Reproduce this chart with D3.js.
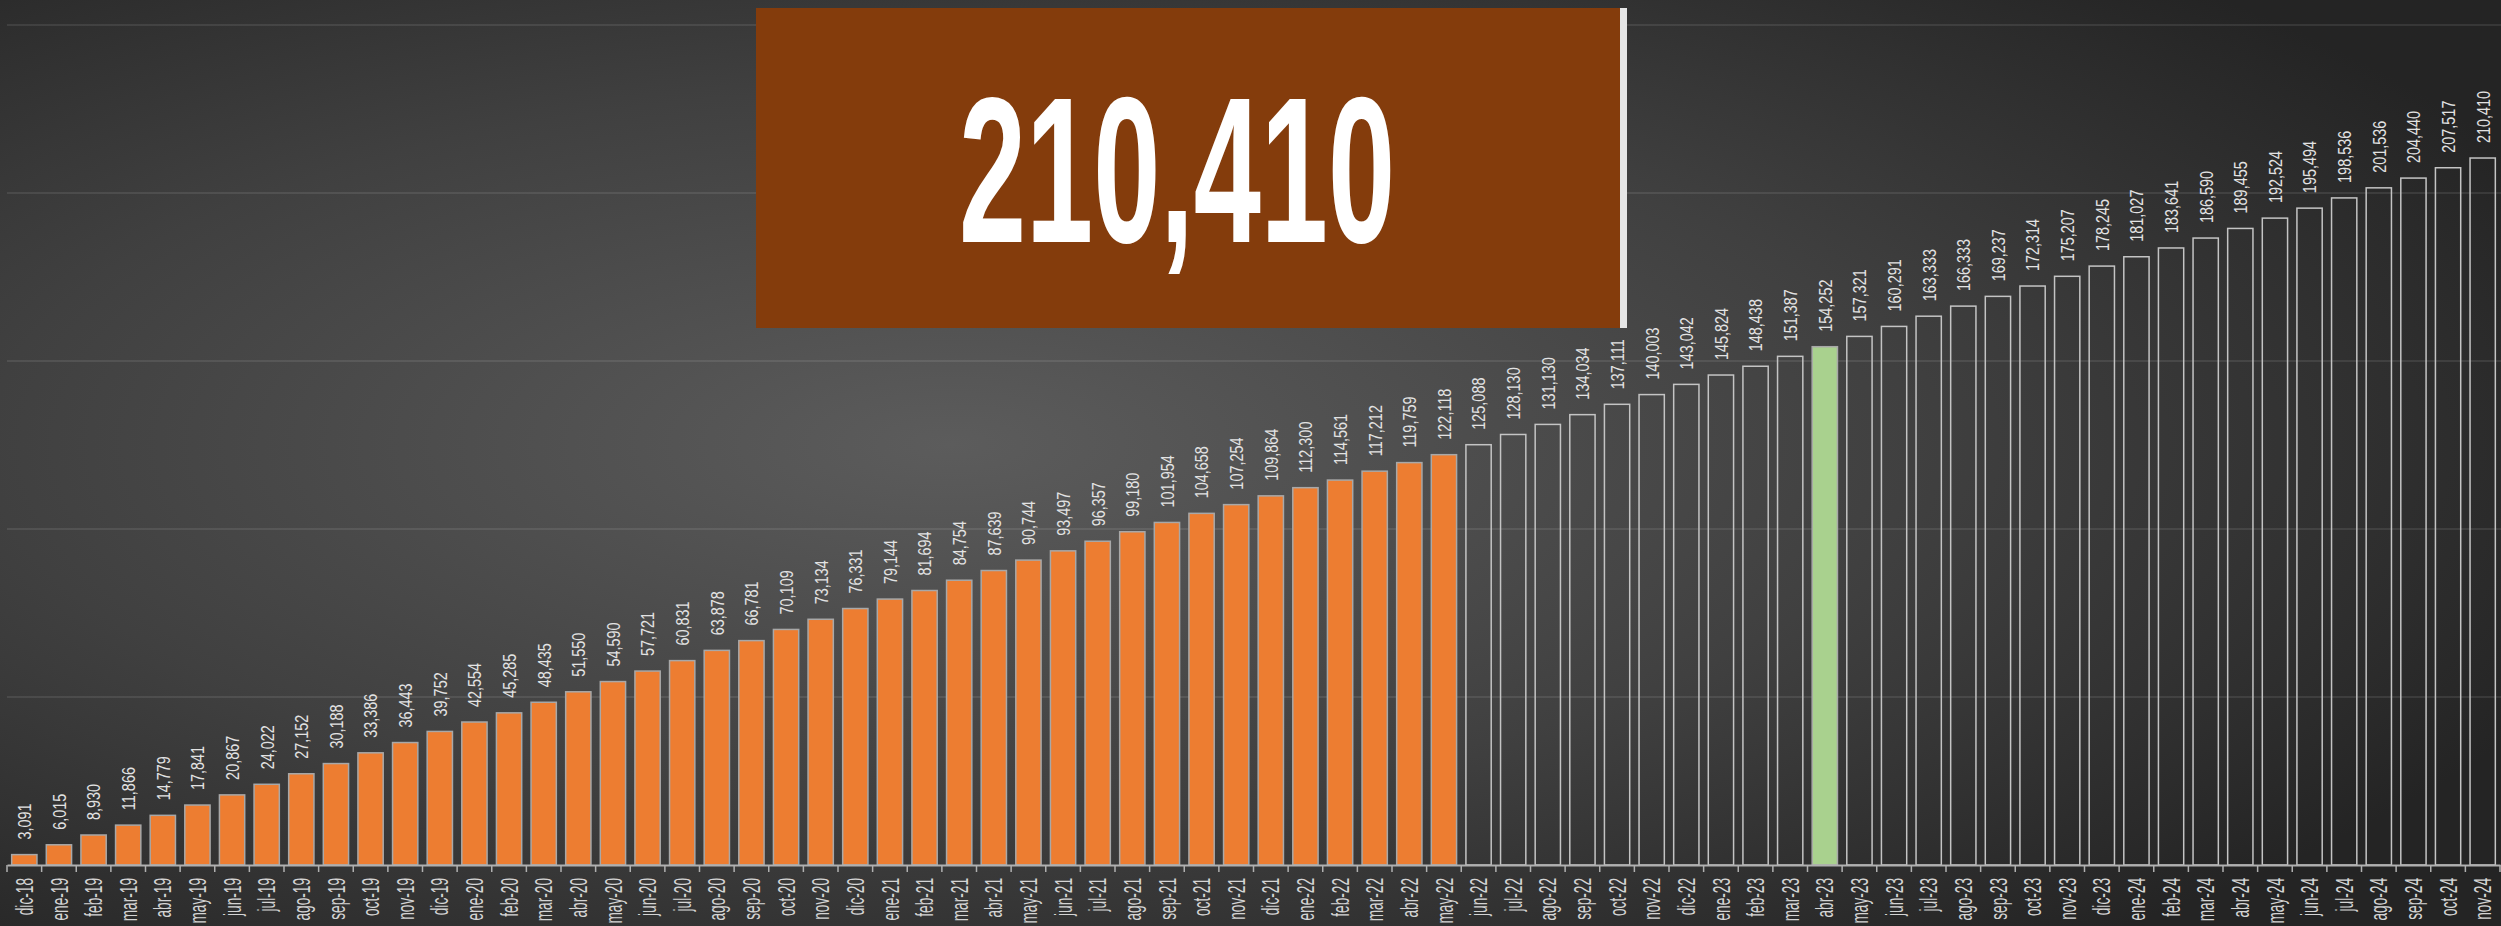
<!DOCTYPE html>
<html lang="es">
<head>
    <meta charset="UTF-8">
    <title>Acumulado</title>
    <style>
        html, body { margin: 0; padding: 0; background: #2b2b2b; overflow: hidden; }
        svg { display: block; }
        text { font-family: "Liberation Sans", Arial, sans-serif; }
    </style>
</head>
<body>
    <div id="chart"></div>

    <script src="https://d3js.org/d3.v7.min.js"></script>
    <script type="text/javascript">
// months shown on the axis
const months = [
    "dic-18",
    "ene-19", "feb-19", "mar-19", "abr-19", "may-19", "jun-19", "jul-19", "ago-19", "sep-19", "oct-19", "nov-19", "dic-19",
    "ene-20", "feb-20", "mar-20", "abr-20", "may-20", "jun-20", "jul-20", "ago-20", "sep-20", "oct-20", "nov-20", "dic-20",
    "ene-21", "feb-21", "mar-21", "abr-21", "may-21", "jun-21", "jul-21", "ago-21", "sep-21", "oct-21", "nov-21", "dic-21",
    "ene-22", "feb-22", "mar-22", "abr-22", "may-22", "jun-22", "jul-22", "ago-22", "sep-22", "oct-22", "nov-22", "dic-22",
    "ene-23", "feb-23", "mar-23", "abr-23", "may-23", "jun-23", "jul-23", "ago-23", "sep-23", "oct-23", "nov-23", "dic-23",
    "ene-24", "feb-24", "mar-24", "abr-24", "may-24", "jun-24", "jul-24", "ago-24", "sep-24", "oct-24", "nov-24"
];

// cumulative values per month
const values = [
    3091,
    6015, 8930, 11866, 14779, 17841, 20867, 24022, 27152, 30188, 33386, 36443, 39752,
    42554, 45285, 48435, 51550, 54590, 57721, 60831, 63878, 66781, 70109, 73134, 76331,
    79144, 81694, 84754, 87639, 90744, 93497, 96357, 99180, 101954, 104658, 107254, 109864,
    112300, 114561, 117212, 119759, 122118, 125088, 128130, 131130, 134034, 137111, 140003, 143042,
    145824, 148438, 151387, 154252, 157321, 160291, 163333, 166333, 169237, 172314, 175207, 178245,
    181027, 183641, 186590, 189455, 192524, 195494, 198536, 201536, 204440, 207517, 210410
];

const lastActual = "may-22";   // orange bars up to here
const highlight = "abr-23";    // green bar
const gridTicks = [50000, 100000, 150000, 200000, 250000];

const W = 2501, H = 926;
const baseY = 865;

const svg = d3.select("#chart")
    .append("svg")
    .attr("width", W)
    .attr("height", H);

// background
const defs = svg.append("defs");
const grad = defs.append("radialGradient")
    .attr("id", "bg")
    .attr("cx", "38%").attr("cy", "48%").attr("r", "70%");
grad.append("stop").attr("offset", "0%").attr("stop-color", "#5c5c5c");
grad.append("stop").attr("offset", "55%").attr("stop-color", "#404040");
grad.append("stop").attr("offset", "100%").attr("stop-color", "#242424");

svg.append("rect")
    .attr("width", W).attr("height", H)
    .attr("fill", "url(#bg)");

const x = d3.scaleBand()
    .domain(months)
    .range([7, 2500])
    .paddingInner(0.27)
    .paddingOuter(0.135);

const y = d3.scaleLinear()
    .domain([0, 250000])
    .range([baseY, 25]);

// gridlines
svg.append("g")
    .selectAll("line")
    .data(gridTicks)
    .enter()
    .append("line")
    .attr("x1", 7).attr("x2", W)
    .attr("y1", d => y(d)).attr("y2", d => y(d))
    .attr("stroke", "#ffffff")
    .attr("stroke-opacity", 0.12)
    .attr("stroke-width", 1.5);

const lastIdx = months.indexOf(lastActual);

function barFill(d, i) {
    if (d === highlight) return "#a9d18e";
    if (i <= lastIdx) return "#ed7d31";
    return "none";
}

// bars
svg.append("g")
    .selectAll("rect")
    .data(months)
    .enter()
    .append("rect")
    .attr("x", d => x(d))
    .attr("width", x.bandwidth())
    .attr("y", (d, i) => y(values[i]))
    .attr("height", (d, i) => baseY - y(values[i]))
    .attr("fill", barFill)
    .attr("stroke", (d, i) => (i <= lastIdx || d === highlight) ? "#a8a8a8" : "#c4c4c4")
    .attr("stroke-width", 1.5);

// value labels
const fmt = d3.format(",");
const sx = 0.76;
svg.append("g")
    .selectAll("text")
    .data(months)
    .enter()
    .append("text")
    .attr("transform", (d, i) => `translate(${x(d) + x.bandwidth() / 2},${y(values[i]) - 15}) rotate(-90) scale(${sx},1)`)
    .attr("dy", "0.36em")
    .attr("text-anchor", "start")
    .attr("fill", "#e2e2e2")
    .style("font-size", "19px")
    .text((d, i) => fmt(values[i]));

// x axis
const xAxis = svg.append("g")
    .attr("transform", `translate(0,${baseY})`)
    .call(d3.axisBottom(x).tickSize(0).tickPadding(0));

xAxis.select(".domain")
    .attr("stroke", "#b0b0b0")
    .attr("stroke-width", 2);

const mx = 0.57;
xAxis.selectAll(".tick text")
    .attr("transform", `rotate(-90) scale(${mx},1)`)
    .attr("x", -13 / mx)
    .attr("y", 0)
    .attr("dy", "0.36em")
    .attr("text-anchor", "end")
    .attr("fill", "#d4d4d4")
    .style("font-size", "24px");

// tick marks between the bars
const gap = (x.step() - x.bandwidth()) / 2;
xAxis.append("g")
    .selectAll("line")
    .data(months.concat(["_end"]))
    .enter()
    .append("line")
    .attr("x1", (d, i) => i < months.length ? x(d) - gap : x(months[months.length - 1]) + x.bandwidth() + gap)
    .attr("x2", (d, i) => i < months.length ? x(d) - gap : x(months[months.length - 1]) + x.bandwidth() + gap)
    .attr("y1", 0).attr("y2", 7)
    .attr("stroke", "#b0b0b0")
    .attr("stroke-width", 1.5);

// big total box
const boxX = 756, boxY = 8, boxW = 864, boxH = 320;
svg.append("rect")
    .attr("x", boxX).attr("y", boxY)
    .attr("width", boxW).attr("height", boxH)
    .attr("fill", "#843c0c");

svg.append("rect")
    .attr("x", boxX + boxW).attr("y", boxY)
    .attr("width", 7).attr("height", boxH)
    .attr("fill", "#e6e6e6");

svg.append("text")
    .attr("transform", `translate(${boxX + boxW / 2 - 11},242) scale(0.58,1)`)
    .attr("text-anchor", "middle")
    .attr("fill", "#ffffff")
    .style("font-size", "208px")
    .style("font-weight", "bold")
    .text(fmt(values[values.length - 1]));
    </script>
</body>
</html>
